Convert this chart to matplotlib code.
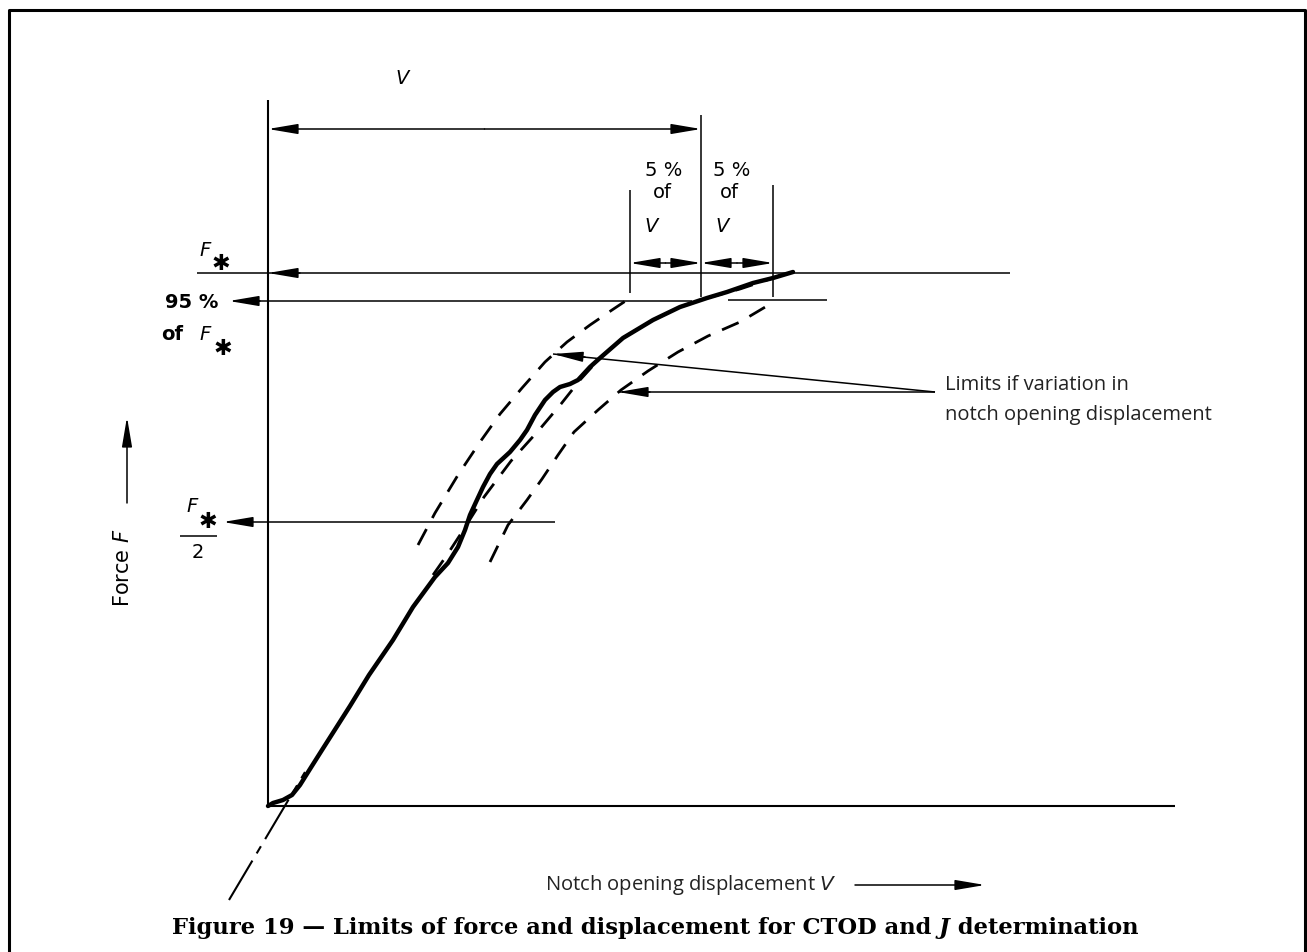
import numpy as np
import matplotlib
matplotlib.use('Agg')
import matplotlib.pyplot as plt

W, H = 1307, 952

# recorded force / displacement trace (drawing units = pixels of the sheet)
rec_x = [268, 273, 283, 292, 300, 310, 322, 336, 350, 369, 393, 413, 435, 448, 458, 465,
         470, 476, 483, 490, 497, 510, 520, 527, 535, 545, 553, 560, 570, 578, 590,
         600, 623, 653, 680, 707, 727, 753, 773, 793]
rec_y = [806, 803, 800, 795, 785, 769, 750, 728, 706, 675, 640, 607, 577, 563, 547, 530,
         515, 502, 487, 474, 464, 452, 440, 430, 415, 400, 392, 387, 384, 380, 367,
         358, 338, 320, 307, 298, 292, 283, 278, 272]

# smoothed reference curve and the +/-5 % limits
mid_x = [433, 447, 462, 484, 511, 539, 561, 580, 600, 623, 653, 680, 707, 740, 773, 793]
mid_y = [575, 555, 532, 497, 461, 430, 404, 380, 358, 338, 320, 307, 298, 289, 278, 272]
lo_x = [418, 435, 458, 480, 500, 522, 545, 567, 590, 612, 630]
lo_y = [545, 513, 475, 442, 414, 388, 362, 342, 325, 310, 298]
hi_x = [490, 508, 527, 542, 558, 574, 598, 621, 648, 678, 708, 740, 772]
hi_y = [562, 525, 500, 479, 455, 432, 410, 390, 371, 352, 336, 322, 303]

# initial slope line
slope_x = [229, 305]
slope_y = [900, 772]

# reference levels
x0, y0 = 268, 806
f_star, f_95, f_half = 273, 301, 522
v_max, v_lo, v_hi = 701, 630, 773

fig = plt.figure(figsize=(W / 100, H / 100), dpi=100)
ax = fig.add_axes([0, 0, 1, 1])
ax.set_xlim(0, W)
ax.set_ylim(H, 0)
ax.axis('off')

K = 'black'
thin = 1.1


def arrow(tail, tip, lw=thin):
    ax.annotate('', xy=tip, xytext=tail,
                arrowprops=dict(arrowstyle='-|>,head_length=1.3,head_width=0.22',
                                mutation_scale=14, lw=lw, color=K,
                                shrinkA=0, shrinkB=0))


def line(xs, ys, lw=thin, **kw):
    ax.plot(xs, ys, color=K, lw=lw, solid_capstyle='butt', **kw)


# frame
line([9, 9, 1305, 1305], [960, 10, 10, 960], lw=2.2)

# axes
line([x0, x0], [100, y0], lw=1.5)
line([x0, 1175], [y0, y0], lw=1.5)

# curves
ax.plot(rec_x, rec_y, color=K, lw=3.2, solid_joinstyle='round', solid_capstyle='round')
for xs, ys in [(mid_x, mid_y), (lo_x, lo_y), (hi_x, hi_y)]:
    ax.plot(xs, ys, color=K, lw=2.0, dashes=(6.5, 4.5))
ax.plot(slope_x, slope_y, color=K, lw=1.5, dashes=(22, 4, 4, 4))

# force levels
line([197, 1010], [f_star, f_star])
arrow((300, f_star), (x0, f_star))
line([255, 692], [f_95, f_95])
arrow((260, f_95), (229, f_95))
line([728, 827], [f_95 - 1, f_95 - 1])
line([248, 555], [f_half, f_half])
arrow((252, f_half), (223, f_half))

# displacement dimensions
line([v_max, v_max], [115, 297])
line([v_lo, v_lo], [190, 293])
line([v_hi, v_hi], [185, 297])
for a, b, yy in [(x0, v_max, 129), (v_lo, v_max, 263), (v_max, v_hi, 263)]:
    mid = (a + b) / 2
    arrow((mid, yy), (a, yy))
    arrow((mid, yy), (b, yy))

# leader lines
line([553, 935], [354, 392])
line([618, 935], [392, 392])
arrow((585, 357), (553, 354))
arrow((650, 392), (618, 392))

# labels
lab = dict(family='DejaVu Sans', fontsize=14, color=K)
it = dict(lab, style='italic')
star = dict(family='DejaVu Sans', fontsize=16, color=K, fontweight='bold')

ax.text(402, 78, 'V', ha='center', va='center', **it)
for cx, pct in [(664, '5 %'), (732, '5 %')]:
    ax.text(cx, 170, pct, ha='center', va='center', **lab)
ax.text(662, 193, 'of', ha='center', va='center', **lab)
ax.text(729, 193, 'of', ha='center', va='center', **lab)
ax.text(651, 226, 'V', ha='center', va='center', **it)
ax.text(722, 226, 'V', ha='center', va='center', **it)

ax.text(205, 250, 'F', ha='center', va='center', **it)
ax.text(221, 264, '✱', ha='center', va='center', **star)
ax.text(218, 302, '95 %', ha='right', va='center', fontweight='bold', **lab)
ax.text(183, 335, 'of', ha='right', va='center', fontweight='bold', **lab)
ax.text(205, 334, 'F', ha='center', va='center', **it)
ax.text(223, 349, '✱', ha='center', va='center', **star)

ax.text(192, 507, 'F', ha='center', va='center', **it)
ax.text(208, 522, '✱', ha='center', va='center', **star)
line([180, 217], [536, 536])
ax.text(198, 553, '2', ha='center', va='center', **lab)

ax.text(123, 568, 'Force $\\it{F}$', rotation=90, ha='center', va='center',
        family='DejaVu Sans', fontsize=15, color=K)
arrow((127, 503), (127, 417))

note = dict(family='Open Sans', fontsize=14.5, color='#222222')
ax.text(945, 385, 'Limits if variation in', ha='left', va='center', **note)
ax.text(945, 415, 'notch opening displacement', ha='left', va='center', **note)

ax.text(545, 885, 'Notch opening displacement $\\it{V}$', ha='left', va='center', **note)
arrow((855, 885), (985, 885))

# caption, with an italic J
cap = dict(family='DejaVu Serif', fontsize=16.3, fontweight='bold', color=K, va='center')
fig.canvas.draw()
r = fig.canvas.get_renderer()
parts = [('Figure 19 \u2014 Limits of force and displacement for CTOD and ', 'normal'),
         ('J', 'italic'), (' determination', 'normal')]
texts = []
for s, st in parts:
    texts.append(ax.text(0, 928, s, ha='left', style=st, **cap))
widths = [t.get_window_extent(r).width for t in texts]
x = 655 - sum(widths) / 2
for t, w in zip(texts, widths):
    t.set_x(x)
    x += w

fig.savefig('out.png', dpi=100)
